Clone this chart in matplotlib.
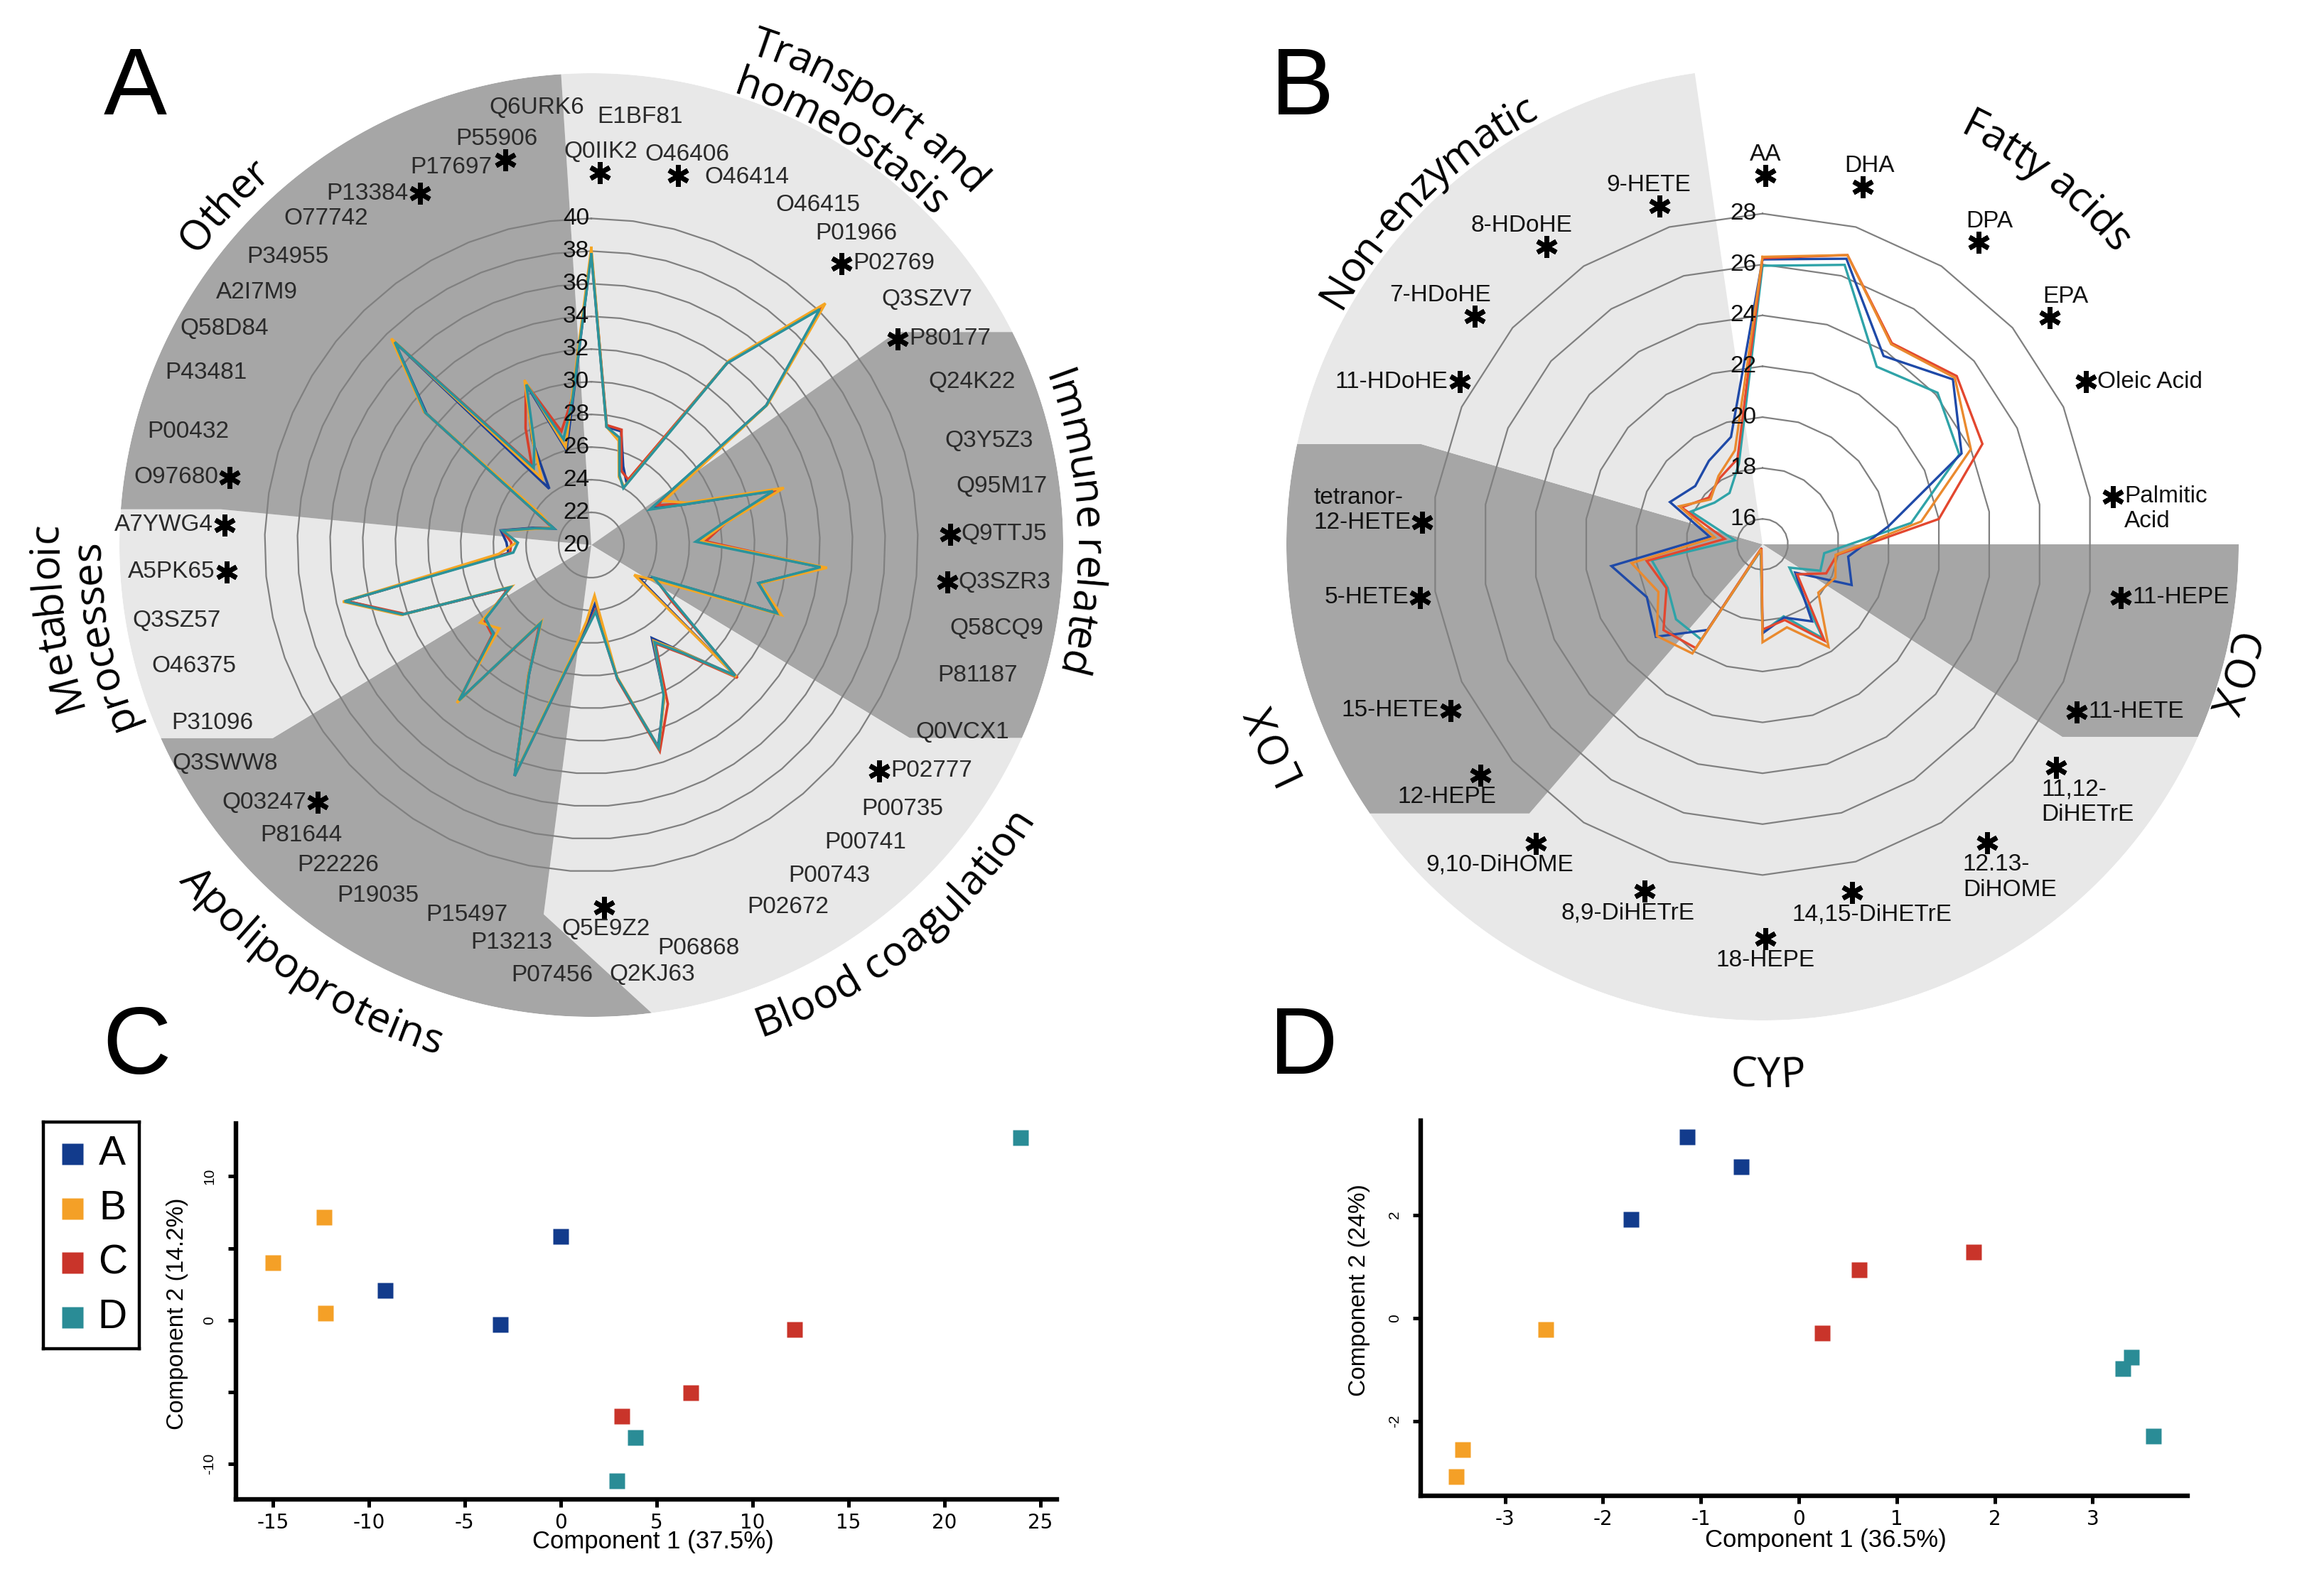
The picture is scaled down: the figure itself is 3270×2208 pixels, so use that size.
import numpy as np
import matplotlib
matplotlib.use("Agg")
import matplotlib.pyplot as plt
from matplotlib.patches import Polygon
from matplotlib.transforms import offset_copy
from matplotlib.font_manager import FontProperties

plt.rcParams['axes.unicode_minus'] = False
plt.rcParams['font.family'] = ['Liberation Sans', 'DejaVu Sans']

# ---------------- panel A: proteins, clockwise from the top ----------------
proteins = [
    'E1BF81', 'Q0IIK2', 'O46406', 'O46414', 'O46415', 'P01966', 'P02769', 'Q3SZV7',
    'P80177', 'Q24K22', 'Q3Y5Z3', 'Q95M17', 'Q9TTJ5', 'Q3SZR3', 'Q58CQ9', 'P81187', 'Q0VCX1',
    'P02777', 'P00735', 'P00741', 'P00743', 'P02672', 'P06868', 'Q2KJ63',
    'Q5E9Z2', 'P07456', 'P13213', 'P15497', 'P19035', 'P22226', 'P81644', 'Q03247', 'Q3SWW8',
    'P31096', 'O46375', 'Q3SZ57', 'A5PK65', 'A7YWG4',
    'O97680', 'P00432', 'P43481', 'Q58D84', 'A2I7M9', 'P34955', 'O77742', 'P13384',
    'P17697', 'P55906', 'Q6URK6']
protein_signif = ['Q0IIK2', 'O46406', 'P02769', 'P80177', 'Q9TTJ5', 'Q3SZR3', 'P02777',
                  'Q5E9Z2', 'Q03247', 'A5PK65', 'A7YWG4', 'O97680', 'P13384', 'P55906']
protein_groups = ['Transport and\nhomeostasis', 'Immune related', 'Blood coagulation',
                  'Apolipoproteins', 'Metabloic\nprocesses', 'Other']
protein_group_sizes = [8, 9, 7, 9, 5, 11]
protein_ticks = [20, 22, 24, 26, 28, 30, 32, 34, 36, 38, 40]

prot_A = [37.9, 27.3, 27.2, 25.2, 24.4, 33.9, 40.2, 33.7,
          24.3, 26.1, 31.7, 28.1, 26.6, 34.2, 30.5, 32.1, 24.4,
          23.6, 31.9, 28.6, 26.8, 30.3, 33.0, 28.3,
          23.6, 25.1, 27.6, 34.9, 28.8, 25.7, 32.5, 28.1, 27.9,
          25.7, 32.3, 35.4, 25.1, 25.2,
          25.6, 23.7, 22.5, 24.1, 32.9, 37.3, 24.3, 27.4, 30.6, 26.0, 28.9]
prot_B = [38.2, 27.3, 26.6, 24.5, 24.1, 34.1, 40.6, 33.8,
          25.2, 26.4, 32.3, 28.3, 26.7, 34.5, 30.6, 32.4, 25.0,
          23.2, 32.0, 28.6, 27.0, 30.3, 33.1, 28.2,
          23.1, 24.7, 27.4, 34.8, 28.9, 25.6, 32.7, 27.6, 28.3,
          25.5, 32.4, 35.6, 25.7, 24.6,
          25.4, 23.5, 22.6, 23.6, 33.1, 37.6, 25.1, 27.3, 30.9, 26.2, 29.2]
prot_C = [37.9, 27.4, 27.3, 24.9, 24.6, 34.0, 40.3, 33.7,
          24.7, 26.3, 31.8, 28.3, 27.0, 34.2, 30.6, 32.2, 24.4,
          26.0, 32.1, 28.8, 27.2, 30.8, 33.3, 28.4,
          24.0, 25.3, 27.6, 34.8, 28.9, 25.8, 32.5, 28.2, 28.0,
          25.7, 32.2, 35.4, 25.0, 24.9,
          25.5, 23.6, 22.6, 24.2, 33.1, 37.4, 26.1, 28.2, 30.7, 27.2, 29.1]
prot_D = [37.8, 27.3, 26.8, 24.6, 24.0, 33.9, 40.1, 33.7,
          24.2, 26.1, 31.6, 28.1, 26.4, 34.1, 30.5, 32.1, 24.3,
          26.3, 31.9, 28.7, 27.1, 30.2, 33.1, 28.3,
          24.1, 25.3, 27.6, 34.9, 28.8, 25.7, 32.5, 28.1, 27.9,
          25.6, 32.3, 35.5, 24.8, 24.5,
          25.5, 23.6, 22.5, 24.2, 33.0, 37.3, 25.9, 27.1, 30.6, 26.7, 29.0]

# ---------------- panel B: lipid mediators, clockwise from the top ----------------
lipids = ['AA', 'DHA', 'DPA', 'EPA', 'Oleic Acid', 'Palmitic\nAcid',
          '11-HEPE', '11-HETE',
          '11,12-\nDiHETrE', '12.13-\nDiHOME', '14,15-DiHETrE', '18-HEPE', '8,9-DiHETrE', '9,10-DiHOME',
          '12-HEPE', '15-HETE', '5-HETE', 'tetranor-\n12-HETE',
          '11-HDoHE', '7-HDoHE', '8-HDoHE', '9-HETE']
lipid_groups = ['Fatty acids', 'COX', 'CYP', 'LOX', 'Non-enzymatic']
lipid_group_sizes = [6, 2, 6, 4, 4]
lipid_ticks = [16, 18, 20, 22, 24, 26, 28]

lip_A = [26.2, 26.7, 23.8, 24.9, 23.6, 20.0, 18.4, 18.85, 16.7, 18.6, 18.0,
         18.5, 15.2, 19.0, 20.55, 20.0, 21.0, 17.1, 19.0, 18.5, 18.9, 19.4]
lip_B = [26.3, 26.85, 24.35, 25.0, 24.0, 21.3, 17.9, 18.15, 17.9, 19.8, 18.4,
         18.85, 15.2, 20.1, 20.5, 19.5, 20.2, 16.9, 18.6, 17.7, 18.2, 18.85]
lip_C = [26.25, 26.85, 24.4, 25.1, 24.5, 22.0, 17.95, 17.75, 16.8, 19.5, 18.1,
         18.35, 15.15, 19.85, 20.15, 19.15, 19.6, 16.5, 18.5, 17.8, 18.1, 18.5]
lip_D = [25.95, 26.45, 23.3, 24.1, 23.5, 20.9, 17.45, 17.5, 16.4, 19.4, 17.95,
         18.45, 15.25, 19.45, 19.5, 19.1, 19.4, 16.1, 18.1, 17.5, 17.4, 18.3]

# ---------------- panels C and D: PCA scores (groups A, B, C, D) ----------------
groups = ['A', 'B', 'C', 'D']
pca_prot_x = [[0.0, -9.15, -3.14], [-12.33, -14.98, -12.25], [12.18, 6.77, 3.21], [23.98, 3.9, 2.95]]
pca_prot_y = [[5.82, 2.07, -0.33], [7.16, 3.97, 0.47], [-0.67, -5.06, -6.69], [12.66, -8.14, -11.19]]
pca_lip_x = [[-1.14, -0.585, -1.71], [-2.58, -3.43, -3.50], [0.615, 1.785, 0.24], [3.40, 3.31, 3.62]]
pca_lip_y = [[3.51, 2.94, 1.92], [-0.23, -2.56, -3.08], [0.93, 1.28, -0.29], [-0.76, -0.98, -2.29]]

# ---------------- styling / layout ----------------
W_PX, H_PX, DPI = 3270, 2208, 200
line_cols_A = ['#1b3f96', '#f5a623', '#d8402b', '#2b939b']
line_cols_B = ['#1f4aa8', '#ea8a2e', '#e3472f', '#2fa3a8']
dot_cols = ['#123b8c', '#f4a027', '#c9342a', '#2a8c96']
LIGHT, DARK = '#e8e8e8', '#a6a6a6'
RING = '#808080'

# nudges of the protein labels (degrees, radial units) so the names do not collide
lab_dth = [6.4, -6.0, -1.0, 0.7, 4.1, 3.4, 2.7, 2.1, 1.0, 0.4, 1.5, 0.7, 0.0, -0.7, -1.5, -1.9, -1.1,
           -1.6, -2.2, -2.5, -2.8, -2.9, 3.4, 2.9, 1.5, 1.6, 0.4, 0.4, 5.8, 5.5, 4.8, 4.3, 4.4,
           2.7, 3.6, 2.9, 2.2, 1.2, 0.4, -0.5, 0.5, -0.4, -1.2, -2.1, -2.1, -2.9, 1.8, 1.7, 0.3]
lab_dr = [1.15, -1.17, -0.65, -0.8, -0.26, -0.22, 0.0, 0.17, 0.0, 0.0, -0.17, 0.0, -0.1, 0.0, -0.1,
          -0.5, 0.0, -0.5, -0.5, -0.74, -0.57, -0.3, 0.0, 1.04, -2.0, 0.9, -0.7, -1.65, -0.4, -0.54,
          -0.37, 0.0, 0.64, 0.15, 0.0, 0.4, 0.35, 0.8, 0.4, 0.3, 0.5, 0.74, 0.35, 0.33, 0.48, 0.26,
          -0.57, 0.28, 1.73]
# pixel nudges of the lipid labels (right, down)
lip_nudge = [(4, 17), (-10, 10), (12, 21), (-4, 21), (27, 4), (4, 31), (25, -10), (8, -4),
             (27, -10), (40, -10), (-6, -29), (4, 13), (-29, -31), (-62, -31), (-14, -21),
             (-6, -6), (6, -10), (0, 33), (-4, 4), (-23, 19), (-31, 27), (0, 37)]

fig = plt.figure(figsize=(W_PX / DPI, H_PX / DPI), dpi=DPI)
renderer = fig.canvas.get_renderer()


def polar_axes(cx, cy, R, origin, rmax):
    ax = fig.add_axes([(cx - R) / W_PX, 1 - (cy + R) / H_PX, 2 * R / W_PX, 2 * R / H_PX],
                      projection='polar')
    ax.set_theta_zero_location('N')
    ax.set_theta_direction(-1)
    ax.set_ylim(origin, rmax)
    ax.set_axis_off()
    return ax


def shading(ax, sizes, shades, shift, origin, rmax, r_bend, ppu):
    n = sum(sizes)
    step = 2 * np.pi / n
    starts = np.cumsum([0] + sizes[:-1])
    R = (rmax - origin) * ppu
    rb = (r_bend - origin) * ppu
    bounds = []
    for k, s0 in enumerate(starts):
        mid = (s0 - 0.5) * step
        inner = mid + shift[k] * step
        if abs(np.sin(mid)) > 0.5:
            # outer part of the boundary runs horizontally to the rim
            bx, by = rb * np.sin(inner), rb * np.cos(inner)
            outer = np.arctan2(np.sign(bx) * np.sqrt(R ** 2 - by ** 2), by)
        else:
            outer = mid
        bounds.append((inner, outer))
    for k in range(len(sizes)):
        if shades[k] is None:
            continue
        a_in, a_out = bounds[k]
        b_in, b_out = bounds[(k + 1) % len(sizes)]
        while b_out <= a_out:
            b_out += 2 * np.pi
        arc = np.linspace(a_out, b_out, 300)
        th = np.r_[a_in, a_in, a_out, arc, b_out, b_in, b_in]
        rr = np.r_[origin, r_bend, rmax, np.full(arc.size, rmax), rmax, r_bend, origin]
        ax.add_patch(Polygon(np.column_stack([th, rr]), closed=True, facecolor=shades[k],
                             edgecolor='none', zorder=0))


def rings(ax, n, levels):
    ang = np.linspace(0, 2 * np.pi, n, endpoint=False)
    ang = np.append(ang, ang[0])
    for v in levels:
        if v <= ax.get_ylim()[0]:
            continue
        ax.plot(ang, np.full(ang.size, v), color=RING, lw=0.8, zorder=1)


def radar_lines(ax, series, cols, order, lw):
    n = len(series[0])
    ang = np.linspace(0, 2 * np.pi, n, endpoint=False)
    ang = np.append(ang, ang[0])
    for z, i in enumerate(order):
        vals = np.append(series[i], series[i][0])
        ax.plot(ang, vals, color=cols[i], lw=lw, zorder=2 + z, solid_joinstyle='miter')


def tick_labels(ax, levels, dx):
    tr = offset_copy(ax.transData, fig=fig, x=dx, y=0, units='points')
    for v in levels:
        ax.text(0, v, str(v), transform=tr, ha='right', va='center', fontsize=12, color='#111111',
                zorder=8)


def star_for(ax, t, theta, thresh, nlines):
    bb = t.get_window_extent(renderer)
    s, c = np.sin(theta), np.cos(theta)
    if abs(s) > thresh:
        x = bb.x0 - 16 if s > 0 else bb.x1 + 16
        lh = bb.height / nlines
        if nlines == 1:
            y = 0.5 * (bb.y0 + bb.y1)
        elif s > 0:
            y = bb.y1 - lh / 2
        else:
            y = bb.y0 + lh / 2
    else:
        x = 0.5 * (bb.x0 + bb.x1) - s * bb.width * 0.45
        y = bb.y0 - 14 if c > 0 else bb.y1 + 15
    th, r = ax.transData.inverted().transform((x, y))
    ax.plot([th], [r], marker=(6, 2, 0), ms=11, mew=2.4, color='k', clip_on=False, zorder=9)


def spoke_labels(ax, names, starred, r_lab, thresh, dth=None, dr=None, nudge=None,
                 color='#222222'):
    n = len(names)
    for i, name in enumerate(names):
        th = 2 * np.pi * i / n
        r = r_lab
        if dth is not None:
            th += np.radians(dth[i])
            r += dr[i]
        tr = ax.transData
        if nudge is not None:
            tr = offset_copy(ax.transData, fig=fig, x=nudge[i][0], y=-nudge[i][1], units='dots')
        nl = name.count('\n') + 1
        t = ax.text(th, r, name, transform=tr, ha='center',
                    va='center_baseline' if nl == 1 else 'center', fontsize=12, color=color,
                    multialignment='left', zorder=8)
        if name in starred:
            star_for(ax, t, th, thresh, nl)


def arc_text(ax, text, theta_deg, r, origin, ppu, outward, size):
    fp = FontProperties(family=['Open Sans', 'DejaVu Sans'], size=size)

    def tw(s):
        return renderer.get_text_width_height_descent(s, fp, ismath=False)[0]

    R = (r - origin) * ppu
    total = tw(text)
    cap = 0.72 * size * DPI / 72.0
    r_base = r - 0.5 * cap / ppu if outward else r + 0.5 * cap / ppu
    for i, ch in enumerate(text):
        if ch == ' ':
            continue
        pos = tw(text[:i + 1]) - tw(ch) / 2 - total / 2
        if outward:
            th = np.radians(theta_deg) + pos / R
            rot = -np.degrees(th)
        else:
            th = np.radians(theta_deg) - pos / R
            rot = 180 - np.degrees(th)
        ax.text(th, r_base, ch, fontproperties=fp, rotation=rot, rotation_mode='anchor',
                ha='center', va='baseline', color='k', zorder=8)


def group_labels(ax, names, layout, origin, ppu, size):
    # layout: (angle of first line, centre radius, outward?, angle step per line, line gap)
    for name, (ang, r, outward, dang, gap) in zip(names, layout):
        lines = name.split('\n')
        k = len(lines)
        for j, line in enumerate(lines):
            off = (k - 1) / 2 - j
            rr = r + off * gap if outward else r - off * gap
            arc_text(ax, line, ang + j * dang, rr, origin, ppu, outward, size)


# ======================= panel A =======================
A_cx, A_cy, A_R, A_org, A_ppu = 832, 767, 664, 20.0, 22.98
A_rmax = A_org + A_R / A_ppu
axA = polar_axes(A_cx, A_cy, A_R, A_org, A_rmax)
shading(axA, protein_group_sizes, [LIGHT, DARK, LIGHT, DARK, LIGHT, DARK],
        [0, 0, 0, 2, 0, 0], A_org, A_rmax, 42.8, A_ppu)
rings(axA, len(proteins), protein_ticks)
radar_lines(axA, [prot_A, prot_B, prot_C, prot_D], line_cols_A, [0, 2, 1, 3], 1.3)
tick_labels(axA, protein_ticks, -1.0)
spoke_labels(axA, proteins, protein_signif, 45.4, 0.45, lab_dth, lab_dr, color='#2a2a2a')
group_labels(axA, protein_groups,
             [(32.6, 51.2, True, -0.8, 2.6), (87.4, 50.5, True, 0, 0),
              (141.3, 50.9, False, 0, 0), (213.8, 51.7, False, 0, 0),
              (262.4, 52.3, True, -2.9, 2.6), (-47.2, 50.9, True, 0, 0)],
             A_org, A_ppu, 21)

# ======================= panel B =======================
B_cx, B_cy, B_R, B_org, B_ppu = 2480, 766, 670, 15.0, 35.8
B_rmax = B_org + B_R / B_ppu
axB = polar_axes(B_cx, B_cy, B_R, B_org, B_rmax)
shading(axB, lipid_group_sizes, [None, DARK, LIGHT, DARK, LIGHT],
        [0, 0, 0, 0, 0], B_org, B_rmax, 29.0, B_ppu)
rings(axB, len(lipids), lipid_ticks)
radar_lines(axB, [lip_A, lip_B, lip_C, lip_D], line_cols_B, [3, 0, 2, 1], 1.2)
tick_labels(axB, lipid_ticks, -3.0)
spoke_labels(axB, lipids, lipids, 30.9, 0.8, nudge=lip_nudge, color='#111111')
group_labels(axB, lipid_groups,
             [(38.0, 33.5, True, 0, 0), (105.3, 34.3, True, 0, 0), (179.4, 35.75, False, 0, 0),
              (247.7, 35.9, True, 0, 0), (-44.3, 34.55, True, 0, 0)],
             B_org, B_ppu, 21)


# ======================= panels C, D =======================
def pca_panel(rect, xs, ys, xlim, ylim, xticks, yticks, yticklabels, xlabel, ylabel,
              xlab_pos, ylab_pos):
    ax = fig.add_axes(rect)
    for g in range(len(groups)):
        ax.plot(xs[g], ys[g], 's', ms=7.8, color=dot_cols[g], mec='none', zorder=3,
                clip_on=False)
    ax.set_xlim(xlim)
    ax.set_ylim(ylim)
    for side in ['top', 'right']:
        ax.spines[side].set_visible(False)
    for side in ['left', 'bottom']:
        ax.spines[side].set_linewidth(2.3)
    ax.set_xticks(xticks)
    ax.set_yticks(yticks)
    ax.set_yticklabels(yticklabels)
    ax.tick_params(direction='out', length=3.8, width=1.8, color='k')
    ax.tick_params(axis='x', labelsize=10, pad=3)
    ax.tick_params(axis='y', labelsize=7.5, labelrotation=90, pad=6)
    for lab in ax.get_xticklabels():
        lab.set_family(['Liberation Sans Narrow', 'DejaVu Sans'])
    for lab in ax.get_yticklabels():
        lab.set_va('center')
    ax.set_xlabel(xlabel, fontsize=12.5)
    ax.set_ylabel(ylabel, fontsize=12)
    ax.xaxis.label.set_va('center')
    ax.yaxis.label.set_va('center')
    ax.xaxis.set_label_coords(*xlab_pos)
    ax.yaxis.set_label_coords(*ylab_pos)
    return ax


pca_panel([331.6 / W_PX, 1 - 2110 / H_PX, 1155.4 / W_PX, 529 / H_PX],
          pca_prot_x, pca_prot_y, (-16.94, 25.87), (-12.46, 13.67),
          [-15, -10, -5, 0, 5, 10, 15, 20, 25], [-10, -5, 0, 5, 10],
          ['-10', '', '0', '', '10'],
          'Component 1 (37.5%)', 'Component 2 (14.2%)', (0.508, -0.113), (-0.071, 0.494))
pca_panel([1999 / W_PX, 1 - 2105 / H_PX, 1079 / W_PX, 528 / H_PX],
          pca_lip_x, pca_lip_y, (-3.86, 3.97), (-3.45, 3.83),
          [-3, -2, -1, 0, 1, 2, 3], [-2, 0, 2], ['-2', '0', '2'],
          'Component 1 (36.5%)', 'Component 2 (24%)', (0.528, -0.119), (-0.080, 0.549))

# legend box for the groups (drawn beside panel C)
lax = fig.add_axes([61 / W_PX, 1 - 1898 / H_PX, 135 / W_PX, 319 / H_PX])
lax.set_xlim(0, 1)
lax.set_ylim(0, 1)
lax.set_xticks([])
lax.set_yticks([])
for sp in lax.spines.values():
    sp.set_linewidth(1.6)
for g, name in enumerate(groups):
    yy = 0.859 - g * 0.2403
    lax.plot([0.304], [yy], 's', ms=11, color=dot_cols[g], mec='none')
    lax.text(0.72, yy, name, ha='center', va='center', fontsize=20.5,
             family=['Liberation Sans Narrow', 'Liberation Sans'])

# panel letters
for letter, x, y in [('A', 190, 161), ('B', 1832, 161), ('C', 192, 1511), ('D', 1834, 1511)]:
    fig.text(x / W_PX, 1 - y / H_PX, letter, fontsize=48, ha='center', va='baseline')

fig.savefig('out.png', dpi=DPI)
